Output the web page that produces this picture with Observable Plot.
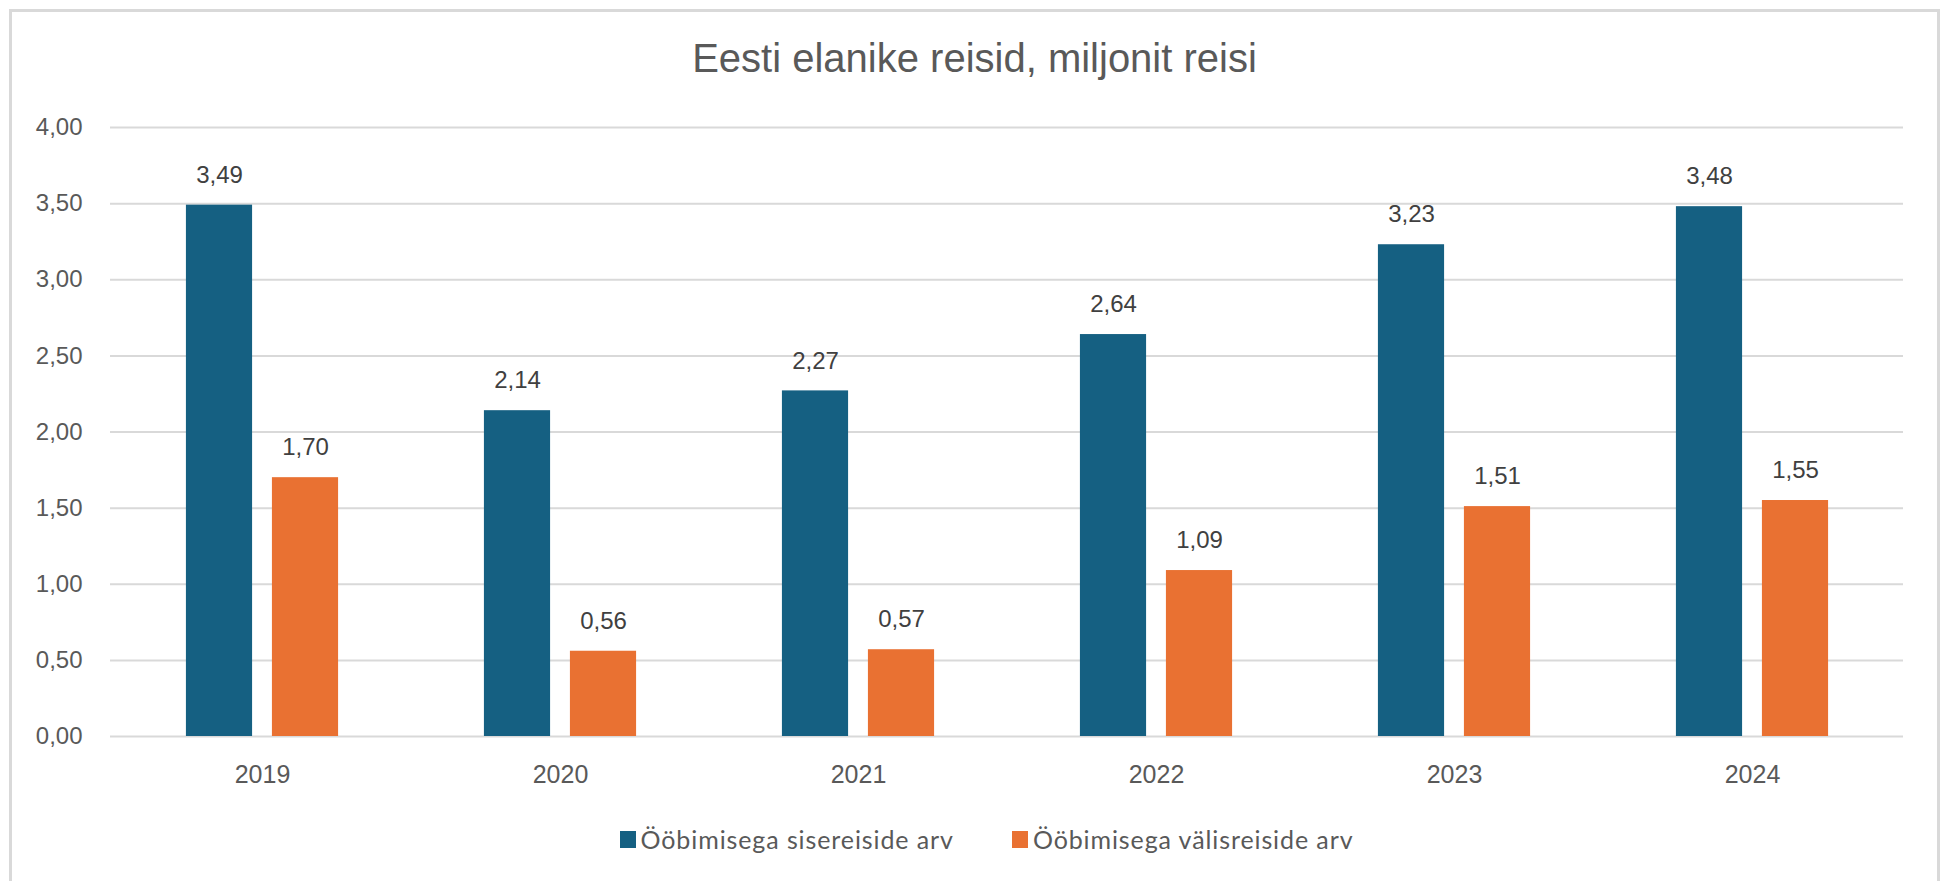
<!DOCTYPE html>
<html><head><meta charset="utf-8">
<script src="https://cdn.jsdelivr.net/npm/d3@7"></script>
<script src="https://cdn.jsdelivr.net/npm/@observablehq/plot@0.6"></script>
<style>
body{margin:0;background:#fff;}
#wrap{position:relative;width:1949px;height:881px;overflow:hidden;background:#fff;}
#frame{position:absolute;left:9px;top:9px;width:1931px;height:900px;border:3px solid #d9d9d9;box-sizing:border-box;}
#title{position:absolute;left:0;width:1949px;top:38px;line-height:40px;text-align:center;font-family:"Liberation Sans",Arial,sans-serif;font-size:40px;color:#595959;white-space:nowrap;}
#chart{position:absolute;left:0;top:0;}
#legend{position:absolute;left:12px;width:1949px;top:826px;height:26px;display:flex;justify-content:center;align-items:center;gap:58px;font-family:Lato,sans-serif;font-size:25px;letter-spacing:0.9px;color:#595959;}
.item{display:flex;align-items:center;}
.sw{width:16px;height:17px;margin-right:5px;}
</style>
</head><body>
<div id="wrap">
  <div id="frame"></div>
  <div id="chart"></div>
  <div id="title"></div>
  <div id="legend"></div>
</div>
<script>
const titleText = "Eesti elanike reisid, miljonit reisi";
const years = ["2019", "2020", "2021", "2022", "2023", "2024"];
const siseValues = [3.49, 2.14, 2.27, 2.64, 3.23, 3.48];
const valisValues = [1.70, 0.56, 0.57, 1.09, 1.51, 1.55];
const seriesNames = ["Ööbimisega sisereiside arv", "Ööbimisega välisreiside arv"];
const seriesColors = ["#156082", "#E97132"];
const yTicks = [0, 0.5, 1, 1.5, 2, 2.5, 3, 3.5, 4];

const fmt = d => d.toFixed(2).replace(".", ",");
const sise = years.map((year, i) => ({year, value: siseValues[i]}));
const valis = years.map((year, i) => ({year, value: valisValues[i]}));

const W = 1949, mL = 110, mR = 46;
const step = (W - mL - mR) / years.length;
const barW = 67, gap = 19;
const outer = (step - 2 * barW - gap) / 2;
const off = gap / 2 + barW / 2;

const chart = Plot.plot({
  width: W,
  height: 800,
  marginLeft: mL,
  marginRight: mR,
  marginTop: 127,
  marginBottom: 64,
  style: {fontFamily: "'Liberation Sans', Arial, sans-serif", background: "transparent"},
  x: {domain: years, padding: 0, axis: null},
  y: {domain: [0, 4], axis: null},
  marks: [
    Plot.ruleY(yTicks, {stroke: "#d9d9d9", strokeWidth: 2}),
    Plot.barY(sise, {x: "year", y: "value", fill: seriesColors[0], insetLeft: outer, insetRight: step - outer - barW}),
    Plot.barY(valis, {x: "year", y: "value", fill: seriesColors[1], insetLeft: outer + barW + gap, insetRight: outer}),
    Plot.text(sise, {x: "year", y: "value", text: d => fmt(d.value), dx: -off, dy: -30, fontSize: 24, fill: "#404040"}),
    Plot.text(valis, {x: "year", y: "value", text: d => fmt(d.value), dx: off, dy: -30, fontSize: 24, fill: "#404040"}),
    Plot.axisX({tickSize: 0, tickPadding: 29, fontSize: 25, color: "#595959", label: null}),
    Plot.axisY({ticks: yTicks, tickFormat: fmt, tickSize: 0, tickPadding: 28, fontSize: 24, color: "#595959", label: null})
  ]
});
document.getElementById("chart").appendChild(chart);
document.getElementById("title").textContent = titleText;

const legend = document.getElementById("legend");
seriesNames.forEach((name, i) => {
  const item = document.createElement("div");
  item.className = "item";
  const sw = document.createElement("div");
  sw.className = "sw";
  sw.style.background = seriesColors[i];
  const label = document.createElement("span");
  label.textContent = name;
  item.appendChild(sw);
  item.appendChild(label);
  legend.appendChild(item);
});
</script>
</body></html>
